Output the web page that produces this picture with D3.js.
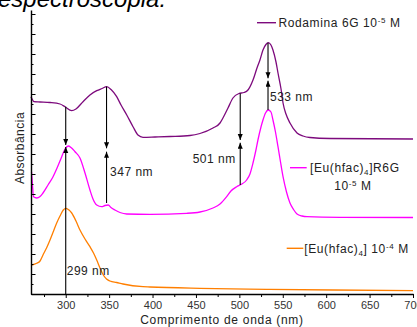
<!DOCTYPE html>
<html>
<head>
<meta charset="utf-8">
<script src="https://cdnjs.cloudflare.com/ajax/libs/d3/7.8.5/d3.min.js"></script>
<style>
  body { margin: 0; background: #fff; }
  text { font-family: "Liberation Sans", Arial, sans-serif; }
</style>
</head>
<body>
<div class="start"></div>
<script>
// wavelength (nm) and absorbance (arbitrary, stacked)
var rhodWl  = [260, 261.2, 263.5, 270.4, 281.9, 293.4, 299.2, 306.9, 311.8, 319.9, 327.9, 335.7, 341.8, 347.2, 352.2, 358.7, 363.7, 370.3, 377.5, 383.2, 389, 402.8, 420.1, 443.1, 454.6, 469.6, 477.7, 481.1, 486.9, 492.6, 499.5, 505.3, 509.9, 515.7, 520.3, 523.7, 527.2, 530.6, 533.3, 536.4, 538.7, 542.2, 544.5, 548, 550.3, 553.7, 558.3, 566.4, 573.3, 581.3, 604.4, 700];
var rhodAbs = [19.73, 19.5, 19.23, 19.2, 19.15, 19.0, 18.73, 18.33, 18.5, 19.23, 19.9, 20.33, 20.55, 20.73, 20.45, 19.73, 18.9, 17.9, 16.73, 15.9, 15.67, 15.7, 15.75, 15.85, 16.05, 16.6, 17.1, 17.6, 18.6, 19.6, 20.05, 20.15, 20.4, 21.4, 22.6, 23.4, 24.4, 24.95, 25.13, 24.9, 24.4, 23.2, 22.1, 20.5, 19.1, 18.0, 17.1, 16.1, 15.8, 15.65, 15.55, 15.5];

var euR6gWl  = [260.6, 261.7, 262.9, 266.6, 270.4, 273.8, 279.6, 285.4, 290, 295.4, 299.2, 303, 306.1, 310.7, 316.4, 322.2, 327.9, 331.4, 335.7, 341.4, 345.2, 349, 352.1, 356.7, 362.5, 370.2, 397, 439.3, 454.6, 469.6, 477.7, 485.4, 490.3, 496.9, 501.8, 508.4, 512.2, 515.7, 519.1, 521.4, 524.9, 527.2, 530.1, 533.3, 536.4, 538.7, 541.6, 544.5, 547.4, 550.3, 554.3, 558.3, 562.4, 566.4, 572.2, 577.9, 616, 700];
var euR6gAbs = [12.23, 10.9, 9.73, 9.6, 9.75, 10.1, 10.9, 11.73, 12.6, 13.73, 14.5, 14.8, 14.65, 14.23, 13.6, 12.1, 10.4, 9.5, 8.9, 8.73, 8.85, 8.9, 8.65, 8.4, 8.15, 8.0, 7.97, 8.07, 8.2, 8.6, 9.0, 9.73, 10.3, 10.73, 10.95, 11.4, 12.0, 13.1, 14.4, 15.4, 16.7, 17.4, 18.1, 18.4, 18.2, 17.4, 16.2, 14.73, 13.2, 11.73, 10.2, 9.1, 8.45, 8.0, 7.8, 7.73, 7.67, 7.65];

var euWl  = [260.8, 266.6, 270.4, 273.8, 277.9, 281.9, 286, 289.6, 293.4, 297.2, 300.4, 303.8, 306.9, 311.8, 316.4, 322.2, 327.9, 332, 335.7, 339.5, 343.3, 347, 351, 358.7, 366, 389, 397, 454.6, 531.4, 607.8, 700];
var euAbs = [2.9, 3.07, 3.3, 3.9, 4.6, 5.4, 6.3, 7.1, 7.8, 8.4, 8.57, 8.4, 8.1, 7.3, 6.4, 5.5, 4.73, 4.1, 3.4, 2.6, 1.9, 1.5, 1.3, 1.15, 1.0, 0.73, 0.7, 0.57, 0.47, 0.4, 0.33];

var xMajorTicks = [300, 350, 400, 450, 500, 550, 600, 650, 700];
var xMinorTicks = [275, 325, 375, 425, 475, 525, 575, 625, 675];

// peak markers: wavelength, label, upper arrow (from, tip), lower arrow (from, tip)
var peakWl     = [300, 347, 501, 533];
var peakLabels = ["299 nm", "347 nm", "501 nm", "533 nm"];
var arrowUpper = [[18.73, 14.9], [20.73, 14.57], [20.05, 15.4], [25.13, 21.57]];
var arrowLower = [[0, 14.7], [9.1, 14.23], [10.9, 15.13], [18.4, 21.33]];

var W = 417, H = 327;
var svg = d3.select('.start').append('svg')
    .attr('width', W).attr('height', H);

var x = d3.scaleLinear().domain([260, 700]).range([31, 413]);
var y = d3.scaleLinear().domain([0, 28.4]).range([294, 10]);

// cut-off caption from the page above the figure
svg.append('text')
    .attr('x', -2).attr('y', 6.5)
    .attr('font-size', 24).attr('font-style', 'italic')
    .attr('fill', '#000')
    .text('espectroscopia.');

var defs = svg.append('defs');
defs.append('marker')
    .attr('id', 'head')
    .attr('markerUnits', 'userSpaceOnUse')
    .attr('markerWidth', 7).attr('markerHeight', 6)
    .attr('refX', 6).attr('refY', 2.5)
    .attr('orient', 'auto')
  .append('path')
    .attr('d', 'M0,0 L6,2.5 L0,5 Z')
    .attr('fill', '#000');

// curves
var line = d3.line()
    .x(function(d) { return x(d[0]); })
    .y(function(d) { return y(d[1]); })
    .curve(d3.curveMonotoneX);

var series = [
  { wl: rhodWl, abs: rhodAbs, color: '#7d0a7d' },
  { wl: euR6gWl, abs: euR6gAbs, color: '#ff00ff' },
  { wl: euWl, abs: euAbs, color: '#ff7f00' }
];
series.forEach(function(s) {
  svg.append('path')
    .datum(d3.zip(s.wl, s.abs))
    .attr('d', line)
    .attr('fill', 'none')
    .attr('stroke', s.color)
    .attr('stroke-width', 1.3)
    .attr('stroke-linejoin', 'round');
});

// arrows
peakWl.forEach(function(wl, i) {
  [arrowUpper[i], arrowLower[i]].forEach(function(a) {
    svg.append('line')
      .attr('x1', x(wl)).attr('x2', x(wl))
      .attr('y1', y(a[0])).attr('y2', y(a[1]))
      .attr('stroke', '#000').attr('stroke-width', 1.1)
      .attr('marker-end', 'url(#head)');
  });
});

var labelPos = [
  { dx: 1, v: 1.9, anchor: 'start' },
  { dx: 3.5, v: 11.8, anchor: 'start' },
  { dx: -4.5, v: 13.1, anchor: 'end' },
  { dx: 2, v: 19.3, anchor: 'start' }
];
peakLabels.forEach(function(lab, i) {
  svg.append('text')
    .attr('x', x(peakWl[i]) + labelPos[i].dx)
    .attr('y', y(labelPos[i].v))
    .attr('text-anchor', labelPos[i].anchor)
    .attr('font-size', 12).attr('letter-spacing', 0.5)
    .attr('fill', '#222')
    .text(lab);
});

// axes
var xAxis = svg.append('g')
    .attr('transform', 'translate(0,294)')
    .call(d3.axisBottom(x).tickValues(xMajorTicks).tickSize(4).tickSizeOuter(0).tickPadding(3));
svg.append('g')
    .attr('transform', 'translate(0,294)')
    .call(d3.axisBottom(x).tickValues(xMinorTicks).tickSize(3).tickFormat(''))
    .select('.domain').remove();
xAxis.selectAll('text').attr('font-size', 11).attr('fill', '#333')
    .style('font-family', '"Liberation Sans", Arial, sans-serif');

var yAxis = svg.append('g')
    .attr('transform', 'translate(31,0)')
    .call(d3.axisLeft(y).tickValues(d3.range(0, 28.4, 1)).tickSize(-3).tickSizeOuter(0).tickFormat(''));
yAxis.selectAll('.tick line').attr('x2', function(d) { return d % 2 === 0 ? 4.5 : 2.5; });

svg.selectAll('.domain').attr('stroke', '#000').attr('stroke-width', 1.4);
svg.selectAll('.tick line').attr('stroke', '#000').attr('stroke-width', 1);

svg.append('text')
    .attr('x', 222).attr('y', 324)
    .attr('text-anchor', 'middle')
    .attr('font-size', 12).attr('letter-spacing', 0.7)
    .attr('fill', '#222')
    .text('Comprimento de onda (nm)');

svg.append('text')
    .attr('transform', 'translate(23.5,148) rotate(-90)')
    .attr('text-anchor', 'middle')
    .attr('font-size', 12).attr('letter-spacing', 0.5)
    .attr('fill', '#222')
    .text('Absorbância');

// legend
function legendLine(x1, x2, yy, color) {
  svg.append('line')
    .attr('x1', x1).attr('x2', x2).attr('y1', yy).attr('y2', yy)
    .attr('stroke', color).attr('stroke-width', 1.4);
}
function legendText(tx, ty, parts, anchor) {
  var t = svg.append('text')
    .attr('x', tx).attr('y', ty)
    .attr('text-anchor', anchor || 'start')
    .attr('font-size', 12).attr('letter-spacing', 0.6)
    .attr('fill', '#222');
  parts.forEach(function(p) {
    var ts = t.append('tspan').text(p.t);
    if (p.sup) ts.attr('font-size', 8).attr('baseline-shift', '4.5');
    if (p.sub) ts.attr('font-size', 8).attr('baseline-shift', '-3');
  });
}

legendLine(257, 276, 22.7, series[0].color);
legendText(278.5, 27, [{ t: 'Rodamina 6G 10' }, { t: '-5', sup: true }, { t: ' M' }]);

legendLine(290, 306.7, 167.7, series[1].color);
legendText(310, 172, [{ t: '[Eu(hfac)' }, { t: '4', sub: true }, { t: ']R6G' }]);
legendText(353, 189.5, [{ t: '10' }, { t: '-5', sup: true }, { t: ' M' }], 'middle');

legendLine(286.7, 303.3, 248.3, series[2].color);
legendText(304.3, 252.5, [{ t: '[Eu(hfac)' }, { t: '4', sub: true }, { t: '] 10' }, { t: '-4', sup: true }, { t: ' M' }]);
</script>
</body>
</html>
